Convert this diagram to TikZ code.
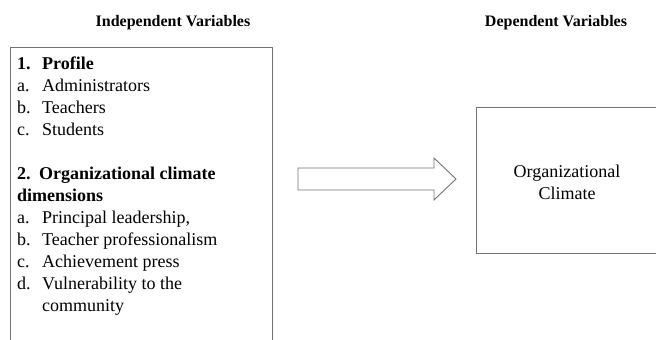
\documentclass[tikz,border=0pt]{standalone}
\usepackage{fontspec}
\setmainfont{Liberation Serif}
\begin{document}
\begin{tikzpicture}[x=1pt,y=-1pt,
  frame/.style={draw=black!55, line width=0.9pt, rectangle, inner sep=0pt},
  title/.style={font=\fontsize{16}{19}\selectfont\bfseries, anchor=base, inner sep=0pt},
  txt/.style={font=\fontsize{18}{22}\selectfont, anchor=base west, inner sep=0pt},
  ctxt/.style={font=\fontsize{18}{22}\selectfont, anchor=base, inner sep=0pt}]
\useasboundingbox (0,0) rectangle (656,340);
\clip (0,0) rectangle (656,340);
% titles
\node[title] (tiv) at (173,27) {Independent Variables};
\node[title] (tdv) at (556,27) {Dependent Variables};
% left box
\node[frame, minimum width=262pt, minimum height=306pt] (iv) at (141,200) {};
\node[txt] (l1) at (17,69) {\bfseries\makebox[25pt][l]{1.}Profile};
\node[txt] (l2) at (17,91.5) {\makebox[25pt][l]{a.}Administrators};
\node[txt] (l3) at (17,113.5) {\makebox[25pt][l]{b.}Teachers};
\node[txt] (l4) at (17,135.5) {\makebox[25pt][l]{c.}Students};
\node[txt] (l5) at (17,179.5) {\bfseries\makebox[22pt][l]{2.}Organizational climate};
\node[txt] (l6) at (17,201.5) {\bfseries dimensions};
\node[txt] (l7) at (17,223.5) {\makebox[25pt][l]{a.}Principal leadership,};
\node[txt] (l8) at (17,245.5) {\makebox[25pt][l]{b.}Teacher professionalism};
\node[txt] (l9) at (17,267.5) {\makebox[25pt][l]{c.}Achievement press};
\node[txt] (l10) at (17,289.5) {\makebox[25pt][l]{d.}Vulnerability to the};
\node[txt] (l11) at (42,311.5) {community};
% arrow
\draw[draw=black!55, line width=0.9pt, fill=white]
  (298,168) -- (434,168) -- (434,158) -- (456,179) -- (434,200) -- (434,190) -- (298,190) -- cycle;
% right box
\node[frame, minimum width=182pt, minimum height=146pt] (dv) at (567,180) {};
\node[ctxt] (d1) at (567,177) {Organizational};
\node[ctxt] (d2) at (567,199) {Climate};
\end{tikzpicture}
\end{document}
